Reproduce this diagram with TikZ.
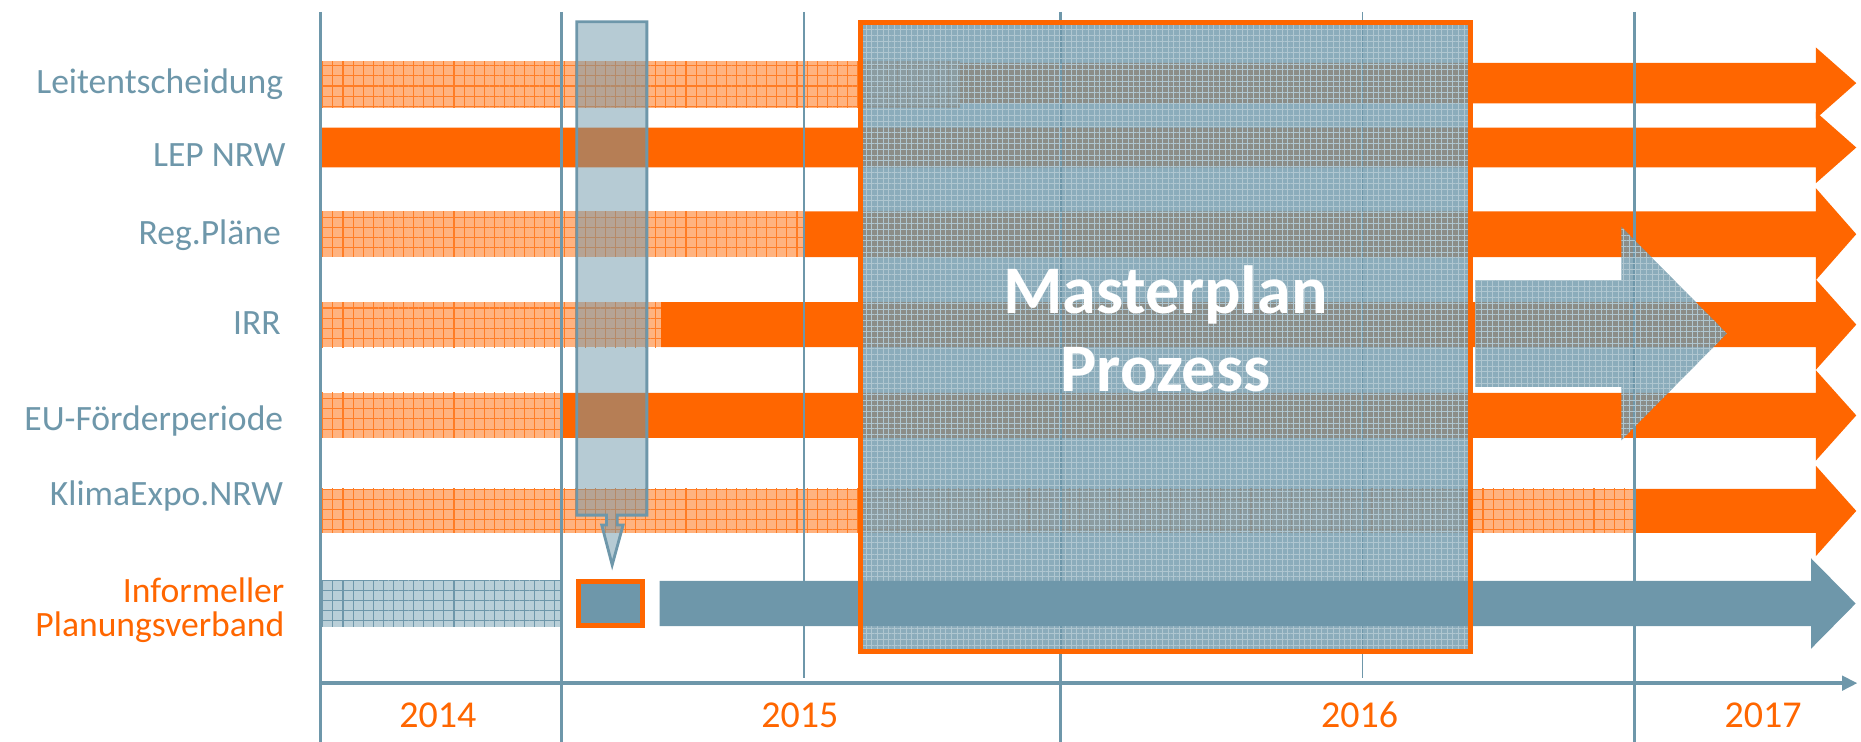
\documentclass[tikz,border=0pt]{standalone}
\usepackage{fontspec}
\setmainfont{Carlito}
\usetikzlibrary{patterns.meta,arrows.meta}
\definecolor{tblue}{HTML}{6E97AA}
\definecolor{torange}{HTML}{FF6600}
\definecolor{lorange}{HTML}{FFB380}
\definecolor{lblue}{HTML}{B9CFD8}
\newcommand{\orarrow}[5]{%
  \fill[#5] (#1,#2-#3) -- (1530,#2-#3) -- (1530,#2-#4) -- (1564,#2) -- (1530,#2+#4) -- (1530,#2+#3) -- (#1,#2+#3) -- cycle;}
\begin{document}
\begin{tikzpicture}[x=0.5pt,y=-0.5pt,
  hatchO/.style={fill=lorange, postaction={pattern={Hatch[angle=0,distance=4.25pt,line width=0.45pt]}, pattern color=torange!85}},
  hatchB/.style={fill=lblue, postaction={pattern={Hatch[angle=0,distance=4.25pt,line width=0.45pt]}, pattern color=tblue}},
  solidO/.style={fill=torange},
  solidB/.style={fill=tblue},
  mpfill/.style={fill=tblue, fill opacity=0.8, postaction={pattern={Hatch[angle=0,distance=2.4pt,line width=0.2pt]}, pattern color=tblue!55!white}},
  vthick/.style={draw=tblue, line width=1.25pt},
  vthin/.style={draw=tblue, line width=0.65pt},
  lbl/.style={anchor=base east, text=tblue, inner sep=0pt, font=\fontsize{15pt}{18pt}\selectfont},
  lblo/.style={anchor=base east, text=torange, inner sep=0pt, font=\fontsize{15pt}{18pt}\selectfont},
  yr/.style={text=torange, inner sep=0pt, font=\fontsize{16pt}{19pt}\selectfont},
  mptext/.style={anchor=base, text=white, inner sep=0pt, font=\fontsize{28.7pt}{34pt}\selectfont\bfseries},
  callout/.style={draw=tblue, line width=1.2pt, fill=tblue, fill opacity=0.5, line join=miter},
  smallbox/.style={draw=torange, line width=2.1pt, fill=tblue},
  mpborder/.style={draw=torange, line width=2.1pt},
  axisline/.style={draw=tblue, line width=1.7pt, -{Triangle[length=6.5pt,width=6pt]}}
]
\useasboundingbox (0,0) rectangle (1568,625);

% hatched (planned) phases
\fill[hatchO] (270,51.4) rectangle (809,90.7);
\fill[hatchO] (270,178) rectangle (677,216.5);
\fill[hatchO] (270,254.5) rectangle (557,292.5);
\fill[hatchO] (270,331) rectangle (473,369);
\fill[hatchO] (270,412) rectangle (1377,449);
\fill[hatchB] (270,489.5) rectangle (472,528);

% solid arrows
\orarrow{809}{70}{17}{30}{solidO}
\orarrow{270}{124.3}{16.8}{30}{solidO}
\orarrow{677}{197.3}{19.3}{38.7}{solidO}
\orarrow{557}{273.5}{19}{38}{solidO}
\orarrow{474}{350}{19}{38}{solidO}
\orarrow{1377}{430.5}{18.5}{38}{solidO}

% vertical year lines
\draw[vthick] (270,10) -- (270,625);
\draw[vthick] (473,10) -- (473,625);
\draw[vthin] (677.5,10) -- (677.5,571);
\draw[vthick] (893.5,10) -- (893.5,625);
\draw[vthin] (1148,10) -- (1148,571);
\draw[vthick] (1377.5,10) -- (1377.5,625);

% Masterplan box fill and output arrow
\fill[mpfill] (725,19) rectangle (1239,549);
\fill[mpfill] (1243,236) -- (1366,236) -- (1366,191) -- (1455,281) -- (1366,371) -- (1366,326) -- (1243,326) -- cycle;

% informal planning association arrow
\fill[solidB] (555.7,489.5) -- (1526,489.5) -- (1526,470.5) -- (1563.5,508.5) -- (1526,546.5) -- (1526,527.5) -- (555.7,527.5) -- cycle;

\draw[mpborder] (725,19) rectangle (1239,549);

% vertical callout
\draw[callout] (486,18.3) -- (545,18.3) -- (545,434) -- (520,434) -- (520,442.3) -- (525,442.3) -- (515.8,476) -- (507,442.3) -- (511,442.3) -- (511,434) -- (486,434) -- cycle;

\draw[smallbox] (487,490) rectangle (541,527);

% time axis
\coordinate (ax0) at (270,575.6);
\coordinate (ax1) at (1565,575.6);
\draw[axisline] (ax0) -- (ax1);

% labels
\node[lbl] (lleit) at (239,78.6) {Leitentscheidung};
\node[lbl] (llep) at (241,140.4) {LEP NRW};
\node[lbl] (lreg) at (237,206) {Reg.Pläne};
\node[lbl] (lirr) at (237,282.2) {IRR};
\node[lbl] (leu) at (239,362.3) {EU-Förderperiode};
\node[lbl] (lklima) at (239,425.5) {KlimaExpo.NRW};
\node[lblo] (linf1) at (240,507.7) {Informeller};
\node[lblo] (linf2) at (240,536) {Planungsverband};

\node[mptext] (mp1) at (982,264) {Masterplan};
\node[mptext] (mp2) at (982,330) {Prozess};

\node[yr] (y14) at (369,602.5) {2014};
\node[yr] (y15) at (674,602.5) {2015};
\node[yr] (y16) at (1145.5,602.5) {2016};
\node[yr] (y17) at (1485.5,602.5) {2017};
\end{tikzpicture}
\end{document}
